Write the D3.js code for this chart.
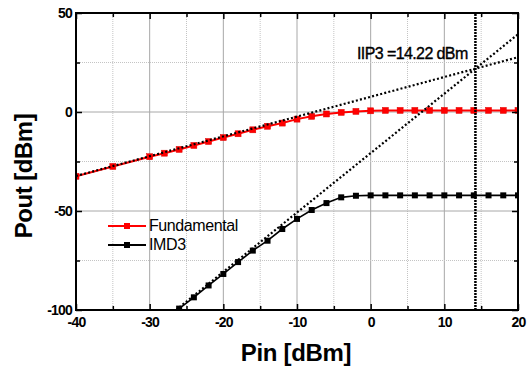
<!DOCTYPE html>
<html><head><meta charset="utf-8">
<script src="https://cdn.jsdelivr.net/npm/d3@7/dist/d3.min.js"></script>
<style>
body{margin:0;background:#fff;}
svg, svg text{font-family:"Liberation Sans",Arial,sans-serif;}
</style></head>
<body><svg id="c" width="528" height="370"></svg>
<script>
const fundPin = [-40,-35,-30,-28,-26,-24,-22,-20,-18,-16,-14,-12,-10,-8,-6,-4,-2,0,2,4,6,8,10,12,14,16,18,20];
const fundOut = [-32.5,-27.5,-22.6,-20.8,-18.9,-16.9,-14.9,-12.9,-11.0,-9.0,-7.2,-5.6,-3.6,-2.2,-1.0,-0.2,0.3,0.6,0.8,0.8,0.8,0.8,0.8,0.8,0.8,0.8,0.8,0.8];
const imdPin = [-26,-24,-22,-20,-18,-16,-14,-12,-10,-8,-6,-4,-2,0,2,4,6,8,10,12,14,16,18,20];
const imdOut = [-99.3,-93.6,-87.6,-81.8,-75.8,-70.0,-65.0,-59.1,-54.0,-49.5,-46.0,-43.1,-42.3,-42.1,-42.1,-42.1,-42.1,-42.1,-42.1,-42.1,-42.1,-42.1,-42.1,-42.1];
const iip3 = 14.22;
const iip3Out = 21.9;
const xTicks = [-40,-30,-20,-10,0,10,20];
const xMinor = [-35,-25,-15,-5,5,15];
const yTicks = [-100,-50,0,50];
const yMinor = [-75,-25,25];
const seriesNames = ["Fundamental","IMD3"];

const svg = d3.select("#c");
const L=76,R=518,T=13,B=310;
const x = d3.scaleLinear().domain([-40,20]).range([L,R]);
const y = d3.scaleLinear().domain([-100,50]).range([B,T]);

// grid
const g = svg.append("g");
g.selectAll(".vg").data(xTicks.filter(d=>d>-40&&d<20)).join("line")
 .attr("x1",d=>x(d)).attr("x2",d=>x(d)).attr("y1",T).attr("y2",B)
 .attr("stroke","#a8a8a8").attr("stroke-width",1);
g.selectAll(".vm").data(xMinor).join("line")
 .attr("x1",d=>x(d)).attr("x2",d=>x(d)).attr("y1",T).attr("y2",B)
 .attr("stroke","#c4c4c4").attr("stroke-width",1).attr("stroke-dasharray","1,1");
g.selectAll(".hg").data(yTicks.filter(d=>d>-100&&d<50)).join("line")
 .attr("y1",d=>y(d)).attr("y2",d=>y(d)).attr("x1",L).attr("x2",R)
 .attr("stroke","#a8a8a8").attr("stroke-width",1);
g.selectAll(".hm").data(yMinor).join("line")
 .attr("y1",d=>y(d)).attr("y2",d=>y(d)).attr("x1",L).attr("x2",R)
 .attr("stroke","#c4c4c4").attr("stroke-width",1).attr("stroke-dasharray","1,1");

// clip
svg.append("clipPath").attr("id","clip").append("rect")
 .attr("x",L).attr("y",T).attr("width",R-L).attr("height",B-T);
const plot = svg.append("g").attr("clip-path","url(#clip)");

const line = d3.line().x(d=>x(d[0])).y(d=>y(d[1]));
const fData = fundPin.map((p,i)=>[p,fundOut[i]]);
const iData = imdPin.map((p,i)=>[p,imdOut[i]]);

plot.append("path").datum(fData).attr("d",line).attr("fill","none").attr("stroke","#ff0000").attr("stroke-width",2);
plot.selectAll(".fm").data(fData).join("rect")
 .attr("x",d=>x(d[0])-3).attr("y",d=>y(d[1])-3).attr("width",6).attr("height",6)
 .attr("fill","#ff0000").attr("stroke","#e00000").attr("stroke-width",0.5);
plot.append("path").datum(iData).attr("d",line).attr("fill","none").attr("stroke","#000").attr("stroke-width",1.6);
plot.selectAll(".im").data(iData).join("rect")
 .attr("x",d=>x(d[0])-3).attr("y",d=>y(d[1])-3).attr("width",6).attr("height",6)
 .attr("fill","#000");

// extrapolation lines
const fx = p => iip3Out + (p - iip3);
const ix = p => iip3Out + 3*(p - iip3);
const pStart = iip3 + (-100 - iip3Out)/3;
plot.append("path").datum([[-40,fx(-40)],[20,fx(20)]]).attr("d",line)
 .attr("stroke","#000").attr("stroke-width",2.2).attr("stroke-dasharray","2,2.2").attr("fill","none");
plot.append("path").datum([[pStart,-100],[20,ix(20)]]).attr("d",line)
 .attr("stroke","#000").attr("stroke-width",2.2).attr("stroke-dasharray","2,2.2").attr("fill","none");
plot.append("path").datum([[iip3,-100],[iip3,50]]).attr("d",line)
 .attr("stroke","#000").attr("stroke-width",2.5).attr("stroke-dasharray","2,1").attr("fill","none");

// axes
const fmt = d => String(d);
function styleAxis(sel){
  sel.attr("font-family",null).attr("font-size",null);
  sel.select(".domain").remove();
  sel.selectAll(".tick line").attr("stroke","#000").attr("stroke-width",1.5);
  sel.selectAll(".tick text").attr("font-size",14).attr("font-weight","bold")
    .attr("font-family","'Liberation Sans',Arial,sans-serif")
    .attr("fill","#000").attr("letter-spacing","-0.8");
}
const ax = [
  svg.append("g").attr("transform",`translate(0,${B})`).call(d3.axisBottom(x).tickValues(xTicks).tickSize(-6).tickPadding(4).tickFormat(fmt)),
  svg.append("g").attr("transform",`translate(0,${B})`).call(d3.axisBottom(x).tickValues(xMinor).tickSize(-4).tickFormat("")),
  svg.append("g").attr("transform",`translate(0,${T})`).call(d3.axisTop(x).tickValues(xTicks).tickSize(-6).tickFormat("")),
  svg.append("g").attr("transform",`translate(0,${T})`).call(d3.axisTop(x).tickValues(xMinor).tickSize(-4).tickFormat("")),
  svg.append("g").attr("transform",`translate(${L},0)`).call(d3.axisLeft(y).tickValues(yTicks).tickSize(-6).tickPadding(4).tickFormat(fmt)),
  svg.append("g").attr("transform",`translate(${L},0)`).call(d3.axisLeft(y).tickValues(yMinor).tickSize(-4).tickFormat("")),
  svg.append("g").attr("transform",`translate(${R},0)`).call(d3.axisRight(y).tickValues(yTicks).tickSize(-6).tickFormat("")),
  svg.append("g").attr("transform",`translate(${R},0)`).call(d3.axisRight(y).tickValues(yMinor).tickSize(-4).tickFormat(""))
];
ax.forEach(styleAxis);
ax[0].selectAll(".tick text").attr("dy","0.92em");
ax[4].selectAll(".tick text").attr("dy","0.34em");

svg.append("rect").attr("x",L).attr("y",T).attr("width",R-L).attr("height",B-T)
 .attr("fill","none").attr("stroke","#000").attr("stroke-width",2);

// annotation
svg.append("text").attr("x",357).attr("y",59).attr("font-size",16).attr("letter-spacing","-0.6")
 .attr("fill","#000").attr("stroke","#000").attr("stroke-width",0.35).text(`IIP3 =${iip3} dBm`);

// legend
const leg = svg.append("g");
const colors = ["#ff0000","#000"];
seriesNames.forEach((n,i)=>{
  const yy = 226 + i*19;
  leg.append("line").attr("x1",108).attr("x2",146).attr("y1",yy).attr("y2",yy)
    .attr("stroke",colors[i]).attr("stroke-width",2);
  leg.append("rect").attr("x",124).attr("y",yy-3).attr("width",6).attr("height",6).attr("fill",colors[i]);
  leg.append("text").attr("x",149).attr("y",yy+5).attr("font-size",16).attr("letter-spacing","-0.4")
    .attr("fill","#000").text(n);
});

// axis titles
svg.append("text").attr("x",296).attr("y",361).attr("text-anchor","middle")
 .attr("font-size",24).attr("font-weight","bold").attr("letter-spacing","-0.3").text("Pin [dBm]");
svg.append("text").attr("transform","translate(32,176) rotate(-90)").attr("text-anchor","middle")
 .attr("font-size",24).attr("font-weight","bold").attr("letter-spacing","-0.5").text("Pout [dBm]");
</script></body></html>
